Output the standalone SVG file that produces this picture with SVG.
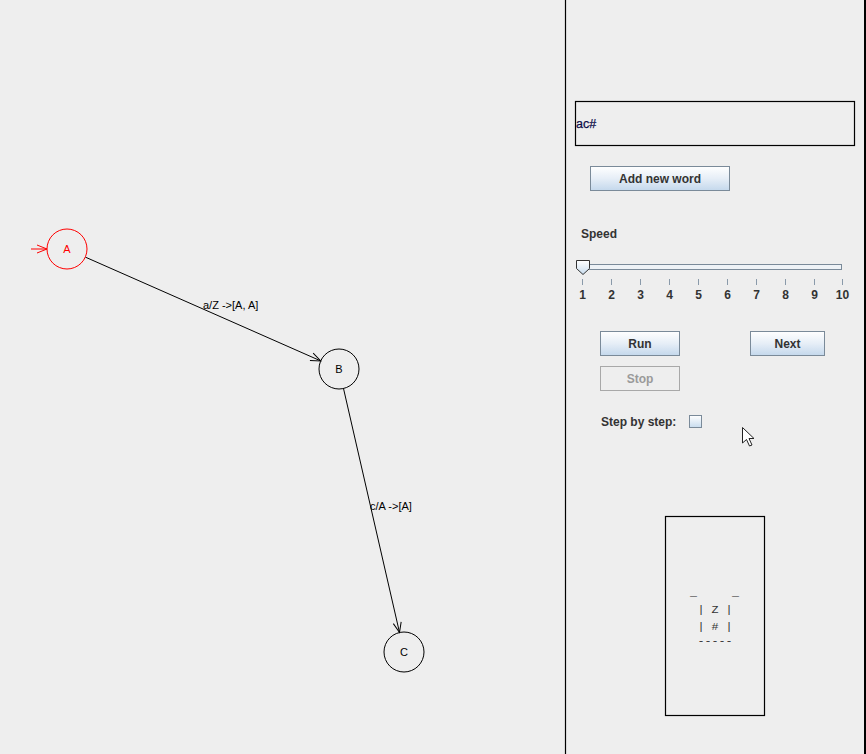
<svg xmlns="http://www.w3.org/2000/svg" width="866" height="754" viewBox="0 0 866 754">
<defs>
<marker id="arrK" markerWidth="12" markerHeight="10" refX="11" refY="5" orient="auto" markerUnits="userSpaceOnUse">
<path d="M1,1 L11,5 L1,9" fill="none" stroke="#000" stroke-width="1"/>
</marker>
<marker id="arrR" markerWidth="12" markerHeight="10" refX="11" refY="5" orient="auto" markerUnits="userSpaceOnUse">
<path d="M1,1 L11,5 L1,9" fill="none" stroke="#ff0000" stroke-width="1"/>
</marker>
<linearGradient id="btn" x1="0" y1="0" x2="0" y2="1">
<stop offset="0" stop-color="#ffffff"/>
<stop offset="0.5" stop-color="#e6eef7"/>
<stop offset="1" stop-color="#c4d8ec"/>
</linearGradient>
<linearGradient id="thumb" x1="0" y1="0" x2="0" y2="1">
<stop offset="0" stop-color="#ffffff"/>
<stop offset="1" stop-color="#c8dcee"/>
</linearGradient>
</defs>
<style>
.node{fill:none;stroke:#000;stroke-width:1}
.lbl{font-family:"Liberation Sans",Arial,sans-serif;font-size:11px;fill:#000}
.edge{stroke:#000;stroke-width:1;fill:none}
.ui{font-family:"Liberation Sans",Arial,sans-serif;font-size:12px;font-weight:bold;fill:#333}
.b{fill:url(#btn);stroke:#7a8a99;stroke-width:1}
.tick{stroke:#8a9aaa;stroke-width:1}
.mono{font-family:"Liberation Mono","DejaVu Sans Mono",monospace;font-size:11.7px;fill:#333}
</style>
<rect x="0" y="0" width="866" height="754" fill="#eeeeee"/>

<g id="connectors">
<line x1="31" y1="249" x2="47" y2="249" stroke="#ff0000" stroke-width="1" marker-end="url(#arrR)"/>
<line class="edge" x1="85.3" y1="257.1" x2="320.7" y2="360.9" marker-end="url(#arrK)"/>
<text class="lbl" x="203" y="309">a/Z -&gt;[A, A]</text>
<line class="edge" x1="343.5" y1="388.5" x2="399.5" y2="632.5" marker-end="url(#arrK)"/>
<text class="lbl" x="370" y="510">c/A -&gt;[A]</text>
</g>

<g id="node-A">
<circle cx="67" cy="249" r="20" fill="none" stroke="#ff0000"/>
<text class="lbl" x="67" y="253" text-anchor="middle" style="fill:#ff0000">A</text>
</g>
<g id="node-B">
<circle class="node" cx="339" cy="369" r="20"/>
<text class="lbl" x="339" y="373" text-anchor="middle">B</text>
</g>
<g id="node-C">
<circle class="node" cx="404" cy="652" r="20"/>
<text class="lbl" x="404" y="656" text-anchor="middle">C</text>
</g>

<g id="panel">
<line x1="565.5" y1="0" x2="565.5" y2="754" stroke="#000" stroke-width="1.2"/>
<line x1="865" y1="0" x2="865" y2="754" stroke="#000" stroke-width="2"/>
<rect x="575.5" y="101.5" width="279" height="44" fill="none" stroke="#000" stroke-width="1.2"/>
<text x="576" y="128" style="font-family:'Liberation Sans',Arial,sans-serif;font-size:12.5px;fill:#0c0c48;stroke:#0c0c48;stroke-width:0.25">ac#</text>

<rect class="b" x="590.5" y="166.5" width="139" height="24"/>
<text class="ui" x="660" y="183" text-anchor="middle">Add new word</text>

<text class="ui" x="581" y="238">Speed</text>
<rect x="582.5" y="264.5" width="259" height="5" fill="#eef2f6" stroke="#7a8a99"/>
<path d="M576.5,260.5 L589.5,260.5 L589.5,268.5 L583,274.5 L576.5,268.5 Z" fill="url(#thumb)" stroke="#333" stroke-width="1"/>
<g>
<line class="tick" x1="582.5" y1="279" x2="582.5" y2="285"/>
<line class="tick" x1="611.5" y1="279" x2="611.5" y2="285"/>
<line class="tick" x1="640.5" y1="279" x2="640.5" y2="285"/>
<line class="tick" x1="669.5" y1="279" x2="669.5" y2="285"/>
<line class="tick" x1="698.5" y1="279" x2="698.5" y2="285"/>
<line class="tick" x1="727.5" y1="279" x2="727.5" y2="285"/>
<line class="tick" x1="756.5" y1="279" x2="756.5" y2="285"/>
<line class="tick" x1="785.5" y1="279" x2="785.5" y2="285"/>
<line class="tick" x1="814.5" y1="279" x2="814.5" y2="285"/>
<line class="tick" x1="842.5" y1="279" x2="842.5" y2="285"/>
</g>
<g class="ui" text-anchor="middle">
<text x="582.5" y="299">1</text>
<text x="611.5" y="299">2</text>
<text x="640.5" y="299">3</text>
<text x="669.5" y="299">4</text>
<text x="698.5" y="299">5</text>
<text x="727.5" y="299">6</text>
<text x="756.5" y="299">7</text>
<text x="785.5" y="299">8</text>
<text x="814.5" y="299">9</text>
<text x="842.5" y="299">10</text>
</g>

<rect class="b" x="600.5" y="331.5" width="79" height="24"/>
<text class="ui" x="640" y="348" text-anchor="middle">Run</text>
<rect class="b" x="750.5" y="331.5" width="74" height="24"/>
<text class="ui" x="787.5" y="348" text-anchor="middle">Next</text>
<rect x="600.5" y="366.5" width="79" height="24" fill="#eeeeee" stroke="#a8a8a8"/>
<text class="ui" x="640" y="383" text-anchor="middle" style="fill:#9a9a9a">Stop</text>

<text class="ui" x="601" y="426">Step by step:</text>
<rect x="689.5" y="415.5" width="12" height="12" fill="url(#thumb)" stroke="#7a8a99"/>

<rect x="665.5" y="516.5" width="99" height="199" fill="none" stroke="#000" stroke-width="1.2"/>
<text class="mono" x="690" y="596" xml:space="preserve">_     _</text>
<text class="mono" x="697.5" y="613" xml:space="preserve">| Z |</text>
<text class="mono" x="697.5" y="630" xml:space="preserve">| # |</text>
<text class="mono" x="697.5" y="644">-----</text>

<path d="M742.5,427.5 L742.5,443 L746.5,439.5 L749.5,446 L752,445 L749,438.5 L754,438.5 Z" fill="#fff" stroke="#222" stroke-width="1"/>
</g>
</svg>
